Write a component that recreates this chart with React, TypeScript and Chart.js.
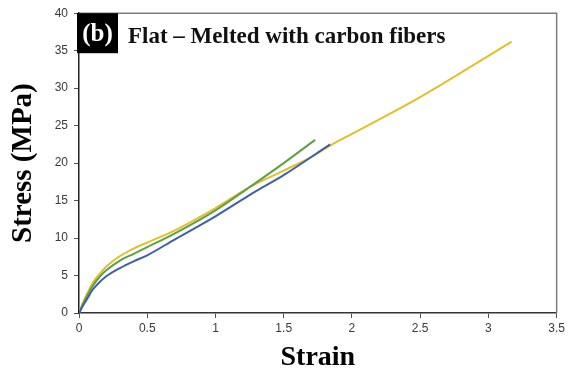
import React, { useEffect, useRef } from "react";
import { Chart, registerables } from "chart.js";

Chart.register(...registerables);

// Stress–strain curves of three flat melted specimens with carbon fibers
const blueStrain = [0, 0.03, 0.06, 0.1, 0.15, 0.2, 0.3, 0.4, 0.5, 0.7, 1.0, 1.3, 1.5, 1.84];
const blueStress = [0, 1.0, 1.9, 3.1, 4.1, 4.9, 6.0, 6.9, 7.7, 9.8, 12.9, 16.3, 18.4, 22.5];

const greenStrain = [0, 0.03, 0.06, 0.1, 0.15, 0.2, 0.3, 0.4, 0.5, 0.7, 1.0, 1.25, 1.5, 1.73];
const greenStress = [0, 1.2, 2.3, 3.6, 4.8, 5.7, 7.0, 7.9, 8.8, 10.6, 13.7, 16.8, 20.0, 23.1];

const yellowStrain = [0, 0.03, 0.06, 0.1, 0.15, 0.2, 0.3, 0.4, 0.5, 0.7, 1.0, 1.25, 1.5, 1.7, 1.865, 2.0, 2.5, 3.0, 3.17];
const yellowStress = [0, 1.4, 2.6, 4.0, 5.2, 6.2, 7.6, 8.6, 9.4, 11.0, 14.0, 16.8, 19.0, 20.8, 22.6, 23.9, 28.8, 34.3, 36.2];

const strainMax = 3.5;
const strainStep = 0.5;
const stressMax = 40;
const stressStep = 5;

const panelLabel = "(b)";
const chartTitle = "Flat – Melted with carbon fibers";
const xAxisTitle = "Strain";
const yAxisTitle = "Stress (MPa)";

const SERIF = "'Times New Roman', 'Liberation Serif', serif";
const SANS = "Arial, 'Liberation Sans', sans-serif";

const toPoints = (xs: number[], ys: number[]) => xs.map((x, i) => ({ x, y: ys[i] }));
const plainNumber = (value: number | string) => String(Number(value));

// Frame on the top and right of the plot area plus the in-plot heading
const frameAndHeading = {
  id: "frameAndHeading",
  afterDraw(chart: Chart) {
    const { ctx, chartArea } = chart;
    const { left, top, right, bottom } = chartArea;
    ctx.save();
    ctx.strokeStyle = "#7c7c7c";
    ctx.lineWidth = 1.5;
    ctx.beginPath();
    ctx.moveTo(left, top);
    ctx.lineTo(right, top);
    ctx.lineTo(right, bottom);
    ctx.stroke();

    ctx.fillStyle = "#000";
    ctx.fillRect(left - 2, top, 41, 40);
    ctx.fillStyle = "#fff";
    ctx.font = `bold 25px ${SERIF}`;
    ctx.textAlign = "center";
    ctx.textBaseline = "middle";
    ctx.fillText(panelLabel, left + 18.5, top + 21);

    ctx.fillStyle = "#111";
    ctx.font = `bold 23px ${SERIF}`;
    ctx.textAlign = "left";
    ctx.textBaseline = "alphabetic";
    ctx.fillText(chartTitle, left + 49, top + 30);
    ctx.restore();
  },
};

export default function App() {
  const canvasRef = useRef<HTMLCanvasElement | null>(null);

  useEffect(() => {
    const canvas = canvasRef.current;
    if (!canvas) return;
    const lineStyle = {
      borderWidth: 2,
      pointRadius: 0,
      fill: false,
      cubicInterpolationMode: "monotone" as const,
    };
    const chart = new Chart(canvas, {
      type: "line",
      data: {
        datasets: [
          { label: "Specimen 1", data: toPoints(blueStrain, blueStress), borderColor: "#3e5fae", ...lineStyle },
          { label: "Specimen 2", data: toPoints(greenStrain, greenStress), borderColor: "#5fa043", ...lineStyle },
          { label: "Specimen 3", data: toPoints(yellowStrain, yellowStress), borderColor: "#e5bf2a", ...lineStyle },
        ],
      },
      options: {
        animation: false,
        responsive: false,
        devicePixelRatio: 1,
        layout: { padding: { left: 0, top: 13, right: 11, bottom: 0 } },
        plugins: {
          legend: { display: false },
          tooltip: { enabled: false },
          title: { display: false },
        },
        scales: {
          x: {
            type: "linear",
            min: 0,
            max: strainMax,
            afterFit: (scale: any) => {
              scale.height = 65;
            },
            ticks: {
              stepSize: strainStep,
              color: "#3a3a3a",
              font: { family: SANS, size: 12 },
              padding: 3,
              maxRotation: 0,
              callback: plainNumber,
            },
            grid: { drawOnChartArea: false, drawTicks: true, tickLength: 5, color: "#555" },
            border: { display: true, color: "#333", width: 1.5 },
            title: {
              display: true,
              text: xAxisTitle,
              color: "#000",
              font: { family: SERIF, size: 28, weight: "bold", lineHeight: 1.2 },
              padding: { top: 0, bottom: 3 },
            },
          },
          y: {
            type: "linear",
            min: 0,
            max: stressMax,
            afterFit: (scale: any) => {
              scale.width = 79;
            },
            ticks: {
              stepSize: stressStep,
              color: "#3a3a3a",
              font: { family: SANS, size: 12 },
              padding: 6,
              callback: plainNumber,
            },
            grid: { drawOnChartArea: false, drawTicks: true, tickLength: 5, color: "#555" },
            border: { display: true, color: "#222", width: 1.5 },
            title: {
              display: true,
              text: yAxisTitle,
              color: "#000",
              font: { family: SERIF, size: 29, weight: "bold", lineHeight: 1.2 },
              padding: { top: 6, bottom: 0 },
            },
          },
        },
      },
      plugins: [frameAndHeading],
    });
    return () => chart.destroy();
  }, []);

  return (
    <div style={{ position: "absolute", left: 0, top: 0, width: 568, height: 378, background: "#fff" }}>
      <canvas ref={canvasRef} width={568} height={378} />
    </div>
  );
}
